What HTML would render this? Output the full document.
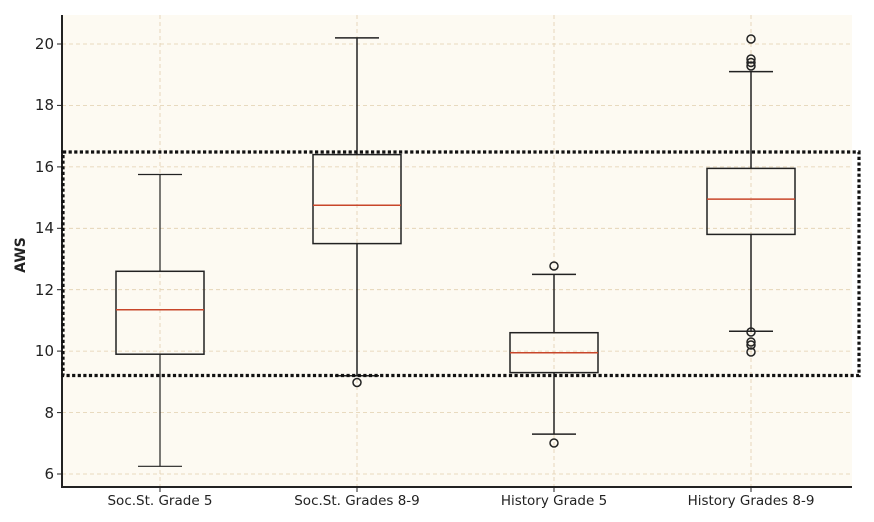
<!DOCTYPE html>
<html><head><style>
html,body{margin:0;padding:0;background:#fff;}
svg{display:block;font-family:"DejaVu Sans","Liberation Sans",sans-serif;}
</style></head><body>
<svg width="874" height="522" viewBox="0 0 874 522" xmlns="http://www.w3.org/2000/svg">
<rect x="0" y="0" width="874" height="522" fill="#fff"/>
<rect x="62" y="15" width="790" height="472" fill="#fdfaf2"/>
<g stroke="#e2cfae" stroke-width="0.8" stroke-dasharray="4,3">
<line x1="62" x2="850" y1="44" y2="44"/>
<line x1="62" x2="850" y1="105.4" y2="105.4"/>
<line x1="62" x2="850" y1="166.9" y2="166.9"/>
<line x1="62" x2="850" y1="228.3" y2="228.3"/>
<line x1="62" x2="850" y1="289.7" y2="289.7"/>
<line x1="62" x2="850" y1="351.1" y2="351.1"/>
<line x1="62" x2="850" y1="412.6" y2="412.6"/>
<line x1="62" x2="850" y1="474" y2="474"/>
<line x1="160" x2="160" y1="15" y2="487"/>
<line x1="357" x2="357" y1="15" y2="487"/>
<line x1="554" x2="554" y1="15" y2="487"/>
<line x1="751" x2="751" y1="15" y2="487"/>
</g>
<!-- axes -->
<line x1="62" y1="15" x2="62" y2="487" stroke="#222" stroke-width="2"/>
<line x1="61" y1="487" x2="852" y2="487" stroke="#222" stroke-width="2"/>
<g stroke="#222" stroke-width="1">
<line x1="57" x2="62" y1="44" y2="44"/><line x1="57" x2="62" y1="105.4" y2="105.4"/>
<line x1="57" x2="62" y1="166.9" y2="166.9"/><line x1="57" x2="62" y1="228.3" y2="228.3"/>
<line x1="57" x2="62" y1="289.7" y2="289.7"/><line x1="57" x2="62" y1="351.1" y2="351.1"/>
<line x1="57" x2="62" y1="412.6" y2="412.6"/><line x1="57" x2="62" y1="474" y2="474"/>
<line x1="160" x2="160" y1="487" y2="492"/><line x1="357" x2="357" y1="487" y2="492"/>
<line x1="554" x2="554" y1="487" y2="492"/><line x1="751" x2="751" y1="487" y2="492"/>
</g>
<g font-size="15" fill="#222" text-anchor="end">
<text x="54" y="49">20</text><text x="54" y="110">18</text><text x="54" y="172">16</text>
<text x="54" y="233">14</text><text x="54" y="295">12</text><text x="54" y="356">10</text>
<text x="54" y="418">8</text><text x="54" y="479">6</text>
</g>
<text transform="translate(25,255) rotate(-90)" font-size="14" font-weight="bold" fill="#222" text-anchor="middle">AWS</text>
<g font-size="13.5" fill="#222" text-anchor="middle">
<text x="160" y="505">Soc.St. Grade 5</text>
<text x="357" y="505">Soc.St. Grades 8-9</text>
<text x="554" y="505">History Grade 5</text>
<text x="751" y="505">History Grades 8-9</text>
</g>
<!-- box 1 -->
<g stroke="#222" stroke-width="1.2" fill="none">
<line x1="160" x2="160" y1="466.3" y2="354.2"/><line x1="160" x2="160" y1="271.3" y2="174.5"/>
<line x1="138" x2="182" y1="466.3" y2="466.3"/><line x1="138" x2="182" y1="174.5" y2="174.5"/>
<rect x="116" y="271.3" width="88" height="82.9" stroke-width="1.5"/>
</g>
<line x1="116" x2="204" y1="309.7" y2="309.7" stroke="#c8462a" stroke-width="1.5"/>
<!-- box 2 -->
<g stroke="#222" stroke-width="1.5" fill="none">
<line x1="357" x2="357" y1="375.7" y2="243.6"/><line x1="357" x2="357" y1="154.6" y2="37.9"/>
<line x1="335" x2="379" y1="375.7" y2="375.7"/><line x1="335" x2="379" y1="37.9" y2="37.9"/>
<rect x="313" y="154.6" width="88" height="89"/>
<circle cx="357" cy="382.5" r="4"/>
</g>
<line x1="313" x2="401" y1="205.3" y2="205.3" stroke="#c8462a" stroke-width="1.5"/>
<!-- box 3 -->
<g stroke="#222" stroke-width="1.5" fill="none">
<line x1="554" x2="554" y1="434.1" y2="372.6"/><line x1="554" x2="554" y1="332.7" y2="274.4"/>
<line x1="532" x2="576" y1="434.1" y2="434.1"/><line x1="532" x2="576" y1="274.4" y2="274.4"/>
<rect x="510" y="332.7" width="88" height="39.9"/>
<circle cx="554" cy="443" r="4"/><circle cx="554" cy="266" r="4"/>
</g>
<line x1="510" x2="598" y1="352.7" y2="352.7" stroke="#c8462a" stroke-width="1.5"/>
<!-- box 4 -->
<g stroke="#222" stroke-width="1.5" fill="none">
<line x1="751" x2="751" y1="331.2" y2="234.4"/><line x1="751" x2="751" y1="168.4" y2="71.6"/>
<line x1="729" x2="773" y1="331.2" y2="331.2"/><line x1="729" x2="773" y1="71.6" y2="71.6"/>
<rect x="707" y="168.4" width="88" height="66"/>
<circle cx="751" cy="39" r="4"/><circle cx="751" cy="59" r="4"/><circle cx="751" cy="62.5" r="4"/><circle cx="751" cy="66" r="4"/>
<circle cx="751" cy="332" r="4"/><circle cx="751" cy="342" r="4"/><circle cx="751" cy="345" r="4"/><circle cx="751" cy="352" r="4"/>
</g>
<line x1="707" x2="795" y1="199.1" y2="199.1" stroke="#c8462a" stroke-width="1.5"/>
<!-- dotted rect -->
<rect x="63" y="152" width="796" height="223.5" fill="none" stroke="#111" stroke-width="3.2" stroke-dasharray="3.2,2.4"/>
</svg>
</body></html>
